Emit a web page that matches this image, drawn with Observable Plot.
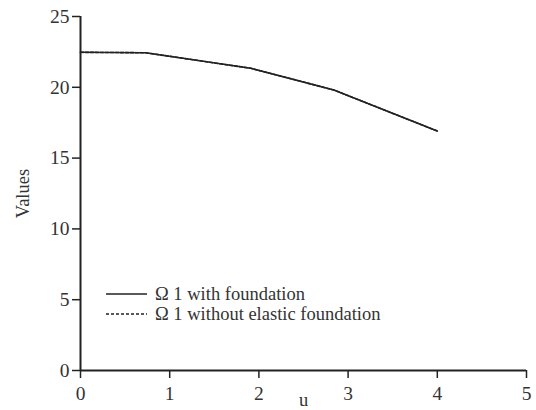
<!DOCTYPE html>
<html><head><meta charset="utf-8">
<script src="https://cdn.jsdelivr.net/npm/d3@7"></script>
<script src="https://cdn.jsdelivr.net/npm/@observablehq/plot@0.6"></script>
<style>
body{margin:0;background:#fff;}
#wrap{position:relative;width:536px;height:410px;font-family:"Liberation Serif","Times New Roman",serif;}
#legend{position:absolute;left:106px;top:284px;font-size:18.5px;color:#333;line-height:20px;}
#legend div{display:flex;align-items:center;height:20px;}
#legend svg{margin-right:8px;}
</style>
</head><body>
<div id="wrap"><div id="legend"></div></div>
<script>
const u = [0, 0.73, 1.91, 2.84, 4];
const withFoundation = [22.47, 22.44, 21.34, 19.81, 16.91];
const withoutElastic = [22.47, 22.44, 21.34, 19.81, 16.91];
const seriesNames = ["\u03A9 1 with foundation", "\u03A9 1 without elastic foundation"];
const xTicks = [0, 1, 2, 3, 4, 5];
const yTicks = [0, 5, 10, 15, 20, 25];

const rowsB = u.map((x, i) => ({u: x, v: withoutElastic[i], s: seriesNames[1]}));
const rowsA = u.map((x, i) => ({u: x, v: withFoundation[i], s: seriesNames[0]}));

const chart = Plot.plot({
  width: 536, height: 410,
  marginLeft: 80, marginRight: 10, marginTop: 16, marginBottom: 40,
  style: {fontFamily: "'Liberation Serif','Times New Roman',serif", fontSize: "19.5px", color: "#333", background: "#fff"},
  x: {domain: [0, 5]},
  y: {domain: [0, 25]},
  marks: [
    Plot.axisX({ticks: xTicks, tickFormat: d3.format("d"), tickSize: 8, tickPadding: 8, stroke: "#222", strokeWidth: 1.5, label: null}),
    Plot.axisX({ticks: [], label: "u", labelAnchor: "center", labelArrow: "none", labelOffset: 35, fontSize: 18.5}),
    Plot.axisY({ticks: yTicks, tickFormat: d3.format("d"), tickSize: 8, tickPadding: 3, stroke: "#222", strokeWidth: 1.5, label: null}),
    Plot.axisY({ticks: [], label: "Values", labelAnchor: "center", labelArrow: "none", labelOffset: 65, fontSize: 18.5}),
    Plot.ruleX([0], {stroke: "#222", strokeWidth: 2}),
    Plot.ruleY([0], {stroke: "#222", strokeWidth: 2}),
    Plot.line(rowsB, {x: "u", y: "v", stroke: "#222", strokeWidth: 1.6, strokeDasharray: "3,2"}),
    Plot.line(rowsA, {x: "u", y: "v", stroke: "#222", strokeWidth: 1.6})
  ]
});
document.getElementById("wrap").prepend(chart);

const leg = document.getElementById("legend");
seriesNames.forEach((name, i) => {
  const d = document.createElement("div");
  d.innerHTML = `<svg width="41" height="6"><line x1="0" y1="3" x2="41" y2="3" stroke="#222" stroke-width="1.6" ${i ? 'stroke-dasharray="3,2"' : ''}/></svg><span>${name}</span>`;
  leg.appendChild(d);
});
</script>
</body></html>
